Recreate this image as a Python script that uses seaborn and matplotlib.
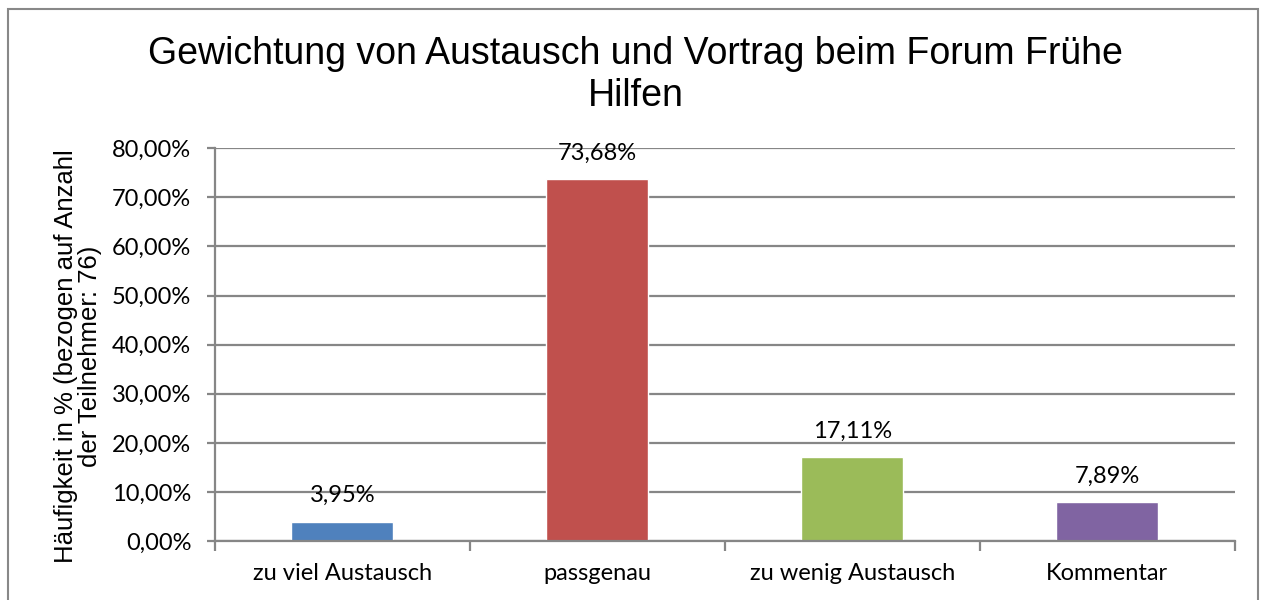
import matplotlib
matplotlib.use("Agg")
import matplotlib.pyplot as plt
import seaborn as sns
import pandas as pd
from matplotlib.ticker import FuncFormatter, FixedLocator
from matplotlib.patches import Rectangle

# Data
categories = ["zu viel Austausch", "passgenau", "zu wenig Austausch", "Kommentar"]
values = [0.0395, 0.7368, 0.1711, 0.0789]
value_labels = ["3,95%", "73,68%", "17,11%", "7,89%"]
colors = ["#4F81BD", "#C0504D", "#9BBB59", "#8064A2"]
y_ticks = [0.0, 0.1, 0.2, 0.3, 0.4, 0.5, 0.6, 0.7, 0.8]

title = "Gewichtung von Austausch und Vortrag beim Forum Frühe\nHilfen"
y_label = "Häufigkeit in % (bezogen auf Anzahl\nder Teilnehmer: 76)"

sns.set_style("white")
plt.rcParams["font.family"] = ["Liberation Sans", "DejaVu Sans"]
plt.rcParams["text.color"] = "black"
plt.rcParams["xtick.color"] = "black"
plt.rcParams["ytick.color"] = "black"
plt.rcParams["axes.labelcolor"] = "black"

df = pd.DataFrame({"Kategorie": categories, "Wert": values})

fig = plt.figure(figsize=(12.64, 6.0), dpi=100)
ax = fig.add_axes([0.170, 0.098, 0.807, 0.655])

sns.barplot(data=df, x="Kategorie", y="Wert", hue="Kategorie",
            palette=colors, legend=False, width=0.40, saturation=1, ax=ax)

grid_col = "#868686"
ax.set_ylim(0, 0.8)
ax.set_xlim(-0.5, len(categories) - 0.5)
ax.yaxis.set_major_locator(FixedLocator(y_ticks))
ax.yaxis.set_major_formatter(FuncFormatter(lambda v, p: f"{v*100:.2f}%".replace(".", ",")))
ax.grid(axis="y", color=grid_col, linewidth=1.6)
ax.set_axisbelow(True)
for s in ["top", "right"]:
    ax.spines[s].set_visible(False)
for s in ["left", "bottom"]:
    ax.spines[s].set_color(grid_col)
    ax.spines[s].set_linewidth(1.6)

ax.tick_params(axis="y", length=6, width=1.6, color=grid_col, pad=11, left=True)
for t in ax.get_yticklabels():
    t.set_fontfamily("Lato")
    t.set_fontsize(17)
ax.set_xticks(range(len(categories)))
ax.set_xticklabels(categories, fontfamily="Lato", fontsize=17)
ax.tick_params(axis="x", which="major", length=0, pad=16)
ax.set_xticks([i - 0.5 for i in range(len(categories) + 1)], minor=True)
ax.tick_params(axis="x", which="minor", length=7, width=1.6, color=grid_col, bottom=True)

for i, (v, lab) in enumerate(zip(values, value_labels)):
    ax.text(i, v + 0.032, lab, ha="center", va="bottom", fontfamily="Lato", fontsize=17)

ax.set_xlabel("")
ax.set_ylabel(y_label, fontsize=18.5, linespacing=1.0)
ax.yaxis.set_label_coords(-0.111, 0.47)

fig.suptitle(title, fontsize=27, x=0.503, y=0.94, linespacing=1.2)

# outer chart border
fig.patches.append(Rectangle((8 / 1264, -0.05), 1250 / 1264, 1.035, transform=fig.transFigure,
                             fill=False, edgecolor="#888888", linewidth=1.5))

fig.savefig("out.png", dpi=100)
